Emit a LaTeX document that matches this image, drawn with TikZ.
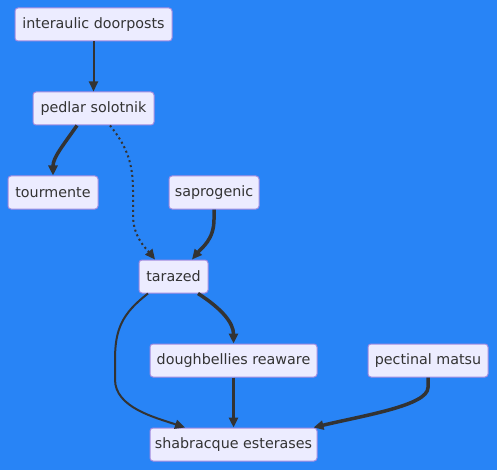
\documentclass[tikz,border=0pt]{standalone}
\usepackage{fontspec}
\setmainfont{DejaVu Sans}
\usetikzlibrary{arrows.meta}
\definecolor{bgblue}{RGB}{40,132,246}
\definecolor{nodefill}{HTML}{ECECFF}
\definecolor{nodeline}{HTML}{A28CE0}
\definecolor{ink}{HTML}{333333}
\begin{document}
\begin{tikzpicture}[x=1pt,y=1pt,
  box/.style={draw=nodeline,fill=nodefill,line width=1pt,rounded corners=3pt,
    minimum height=33pt,inner sep=0pt,text=ink,font=\fontsize{14.3}{16}\selectfont},
  edge/.style={draw=ink,line width=2pt,-{Triangle[length=10pt,width=9pt]}},
  thickedge/.style={edge,line width=3.5pt},
  dottededge/.style={edge,dash pattern=on 2pt off 3pt}]
\useasboundingbox (0,0) rectangle (497,-470);
\fill[bgblue] (0,0) rectangle (497,-470);
\node[box,minimum width=157pt] (inter) at (93.5,-24.5) {interaulic doorposts};
\node[box,minimum width=121pt] (pedlar) at (93.5,-108.5) {pedlar solotnik};
\node[box,minimum width=90pt] (tour) at (53,-192.5) {tourmente};
\node[box,minimum width=90pt] (sapro) at (214,-192.5) {saprogenic};
\node[box,minimum width=69pt] (tara) at (173.5,-276.5) {tarazed};
\node[box,minimum width=167pt] (dough) at (233.5,-360.5) {doughbellies reaware};
\node[box,minimum width=120pt] (pect) at (428,-360.5) {pectinal matsu};
\node[box,minimum width=167pt] (shab) at (233.5,-444.5) {shabracque esterases};

\draw[edge] (inter.south) -- (pedlar.north);
\draw[thickedge] ([xshift=-16.5pt]pedlar.south) .. controls +(-14,-20) and +(0,18) .. (tour.north);
\draw[dottededge] ([xshift=16.5pt]pedlar.south) .. controls +(18,-22) and +(0,25) .. ++(23,-65) -- ++(0,-25)
  .. controls +(0,-22) and +(-8,10) .. ([xshift=-18.5pt]tara.north);
\draw[thickedge] (sapro.south) -- ++(0,-10) .. controls +(0,-20) and +(10,12) .. ([xshift=18.5pt]tara.north);
\draw[thickedge] ([xshift=24.5pt]tara.south) .. controls +(25,-16) and +(0,20) .. ([xshift=60pt]tara.south |- dough.north);
\draw[edge] ([xshift=-25.5pt]tara.south) .. controls +(-26,-20) and +(0,30) .. ++(-33,-66) -- ++(0,-20)
  .. controls +(0,-28) and +(-30,10) .. ([xshift=-48.5pt]shab.north);
\draw[thickedge] (dough.south) -- (shab.north);
\draw[thickedge] (pect.south) -- ++(0,-10) .. controls +(0,-18) and +(50,12) .. ([xshift=-4pt]shab.north east);
\end{tikzpicture}
\end{document}
